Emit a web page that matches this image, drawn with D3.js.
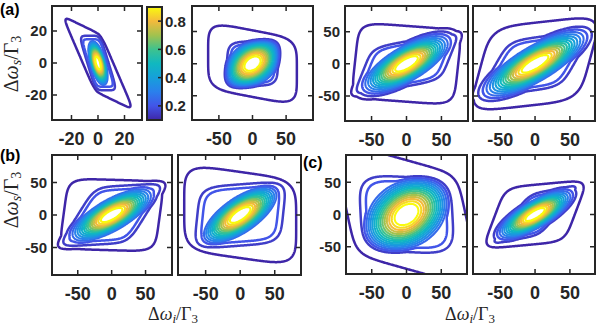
<!DOCTYPE html>
<html>
<head>
<meta charset="utf-8">
<script src="https://cdn.jsdelivr.net/npm/d3@7"></script>
<style>
body { margin: 0; background: #fff; }
svg { display: block; }
</style>
</head>
<body>
<div id="figure"></div>
<script>
// panels, in reading order
var panelNames = ["a1", "a2", "a3", "a4", "b1", "b2", "c1", "c2"];

// axis ranges (Delta omega / Gamma_3)
var xDomains = [[-34.7, 33.2], [-90, 90], [-88, 88], [-89, 86],
		[-88, 89], [-90, 88], [-87, 87], [-89, 86]];
var yDomains = [[-35.6, 35.6], [-88, 90], [-89, 90], [-89, 90],
		[-92, 92], [-92, 92], [-92, 92], [-92, 92]];
var xTickValues = [[-20, 0, 20], [-50, 0, 50], [-50, 0, 50], [-50, 0, 50],
		   [-50, 0, 50], [-50, 0, 50], [-50, 0, 50], [-50, 0, 50]];
var yTickValues = xTickValues;
var showYLabels = [true, false, true, false, true, false, true, false];

// contour levels and colour bar
var contourLevels = [0.1, 0.15, 0.2, 0.25, 0.3, 0.35, 0.4, 0.45, 0.5,
		     0.55, 0.6, 0.65, 0.7, 0.75, 0.8, 0.85, 0.9];
var colorbarTicks = [0.2, 0.4, 0.6, 0.8];
var colorbarRange = [0.1, 0.9];
var parulaStops = ["#3e26a8", "#4255e8", "#2a80ec", "#16a0da", "#10b8c0",
		   "#3ec28e", "#a2c24e", "#f4ba3c", "#f9fb0e"];

/*
  Shapes, one per panel.
  Each shape is [[cx, cy, w], [cx, cy, w], q]: two edge normals
  (cx*x + cy*y) / w and the roundness q of the corners.
  shelf: the faint outer plateau (level 0.1 line)
  ridge: the blue rim (0.15 and 0.2 lines)
  core:  the central peak
*/
var shelfShapes = [
    [[1, 0.52, 11.5], [0.4, 1, 18.6], 8],
    [[1, 0, 66], [0.2, 1, 52], 5],
    [[1, -0.1, 74], [0.08, 1, 59], 6],
    [[1, -0.25, 77], [-0.12, 1, 64], 5],
    [[1, -0.13, 71], [0.03, 1, 54], 6],
    [[1, 0, 81], [0.15, 1, 66], 5],
    [[1, 0.2, 85], [0.3, 1, 84], 8],
    [[1, -0.35, 57], [-0.1, 1, 46], 6]];
var ridgeShapes = [
    [[1, 0.37, 8], [0, 1, 17], 6],
    [[1, -0.05, 38], [-0.05, 1, 35], 5],
    [[1, -0.37, 58], [-0.2, 1, 35], 6],
    [[1, -0.53, 56], [-0.15, 1, 41], 6],
    [[1, -0.6, 50], [-0.06, 1, 44], 6],
    [[1, -0.1, 62], [-0.08, 1, 47], 5],
    [[1, 0.05, 66], [0.05, 1, 58], 4],
    [[1, -0.73, 31], [-0.21, 1, 33], 6]];
var coreShapes = [
    [[1, 0.3, 5], [0, 1, 12], 2],
    [[0.766, 0.643, 42], [-0.643, 0.766, 28], 2],
    [[0.839, 0.545, 58], [-0.545, 0.839, 22], 2],
    [[0.839, 0.545, 69], [-0.545, 0.839, 22.5], 2],
    [[0.857, 0.515, 56], [-0.515, 0.857, 20], 2],
    [[0.799, 0.602, 55], [-0.602, 0.799, 22], 2],
    [[0.743, 0.669, 60], [-0.669, 0.743, 42], 2],
    [[0.839, 0.545, 50], [-0.545, 0.839, 17], 2]];
var shelfHeight = [0.13, 0.13, 0.13, 0.13, 0.13, 0.13, 0.13, 0.13];
var ridgeHeight = [0.24, 0.24, 0.24, 0.24, 0.24, 0.24, 0.24, 0.24];
// how tightly the core is held inside the ridge (big = not at all)
var coreWindow = [1.1, 1.08, 3, 3, 3, 1.12, 1.08, 3];

// placement of the axes boxes, pixels
var panelLeft   = [52, 192, 345, 473, 52, 178, 346, 473];
var panelRight  = [142, 313, 468, 595, 172, 301, 467, 595];
var panelTop    = [6, 6, 6, 6, 155, 155, 155, 155];
var panelBottom = [120, 120, 121, 121, 275, 275, 274, 274];

var axisColor = "#262626";
var tickFont = "'Liberation Sans', Arial, sans-serif";
var mathFont = "'Liberation Serif', 'Times New Roman', serif";

var parula = d3.scaleLinear()
    .domain(parulaStops.map(function(d, i) {
	return colorbarRange[0] +
	    i / (parulaStops.length - 1) * (colorbarRange[1] - colorbarRange[0]); }))
    .range(parulaStops)
    .clamp(true);

/*
  shapeNorm: superellipse radius of (x, y) in the skewed frame of a shape.
*/
function shapeNorm(s, x, y) {
    var u = Math.abs((s[0][0] * x + s[0][1] * y) / s[0][2]);
    var v = Math.abs((s[1][0] * x + s[1][1] * y) / s[1][2]);
    return Math.pow(Math.pow(u, s[2]) + Math.pow(v, s[2]), 1 / s[2]);
}

// plateau of given height that crosses edgeLevel at r == 1
function plateau(height, edgeLevel, r, n) {
    return height / (1 + (height / edgeLevel - 1) * Math.pow(r, n));
}

function field(k, x, y) {
    var rShelf = shapeNorm(shelfShapes[k], x, y);
    var rRidge = shapeNorm(ridgeShapes[k], x, y);
    var rCore = shapeNorm(coreShapes[k], x, y);
    var shelf = plateau(shelfHeight[k], 0.1, rShelf, 8);
    var ridge = plateau(ridgeHeight[k], 0.15, rRidge, 8);
    var core = Math.exp(-rCore * rCore) /
	(1 + Math.pow(rRidge / coreWindow[k], 8));
    return Math.max(shelf, ridge, core);
}

var svg = d3.select("#figure")
    .append("svg")
    .attr("width", 599)
    .attr("height", 327)
    .style("background-color", "white");

var defs = svg.append("defs");

function drawPanel(k) {
    var x = d3.scaleLinear().domain(xDomains[k]).range([panelLeft[k], panelRight[k]]);
    var y = d3.scaleLinear().domain(yDomains[k]).range([panelBottom[k], panelTop[k]]);

    // sample the field a bit beyond the box so that closing edges get clipped
    var nx = 230, ny = 230;
    var xs = xDomains[k], ys = yDomains[k];
    var gx0 = xs[0] - 0.2 * (xs[1] - xs[0]), gx1 = xs[1] + 0.2 * (xs[1] - xs[0]);
    var gy0 = ys[0] - 0.2 * (ys[1] - ys[0]), gy1 = ys[1] + 0.2 * (ys[1] - ys[0]);
    var dgx = (gx1 - gx0) / (nx - 1), dgy = (gy1 - gy0) / (ny - 1);
    var values = new Float64Array(nx * ny);
    for (var j = 0; j < ny; j++) {
	for (var i = 0; i < nx; i++) {
	    values[j * nx + i] = field(k, gx0 + i * dgx, gy0 + j * dgy);
	}
    }
    var contours = d3.contours().size([nx, ny]).thresholds(contourLevels)(values);

    var projection = d3.geoTransform({
	point: function(px, py) {
	    this.stream.point(x(gx0 + (px - 0.5) * dgx), y(gy0 + (py - 0.5) * dgy));
	}
    });
    var path = d3.geoPath(projection);

    defs.append("clipPath")
	.attr("id", "clip" + k)
	.append("rect")
	.attr("x", panelLeft[k])
	.attr("y", panelTop[k])
	.attr("width", panelRight[k] - panelLeft[k])
	.attr("height", panelBottom[k] - panelTop[k]);

    var g = svg.append("g").attr("class", "panel " + panelNames[k]);

    g.append("g")
	.attr("clip-path", "url(#clip" + k + ")")
	.selectAll("path")
	.data(contours)
	.enter()
	.append("path")
	.attr("d", path)
	.attr("fill", "none")
	.attr("stroke", function(d) { return parula(d.value); })
	.attr("stroke-width", function(d) { return d.value < 0.22 ? 2.5 : 2.1; })
	.attr("stroke-linejoin", "round");

    // ticks on all four sides, pointing in
    var tl = 5;
    g.selectAll(".xtick")
	.data(xTickValues[k])
	.enter()
	.append("path")
	.attr("d", function(d) {
	    return "M" + x(d) + "," + panelBottom[k] + "v" + (-tl) +
		"M" + x(d) + "," + panelTop[k] + "v" + tl; })
	.attr("stroke", axisColor)
	.attr("stroke-width", 1.5);
    g.selectAll(".ytick")
	.data(yTickValues[k])
	.enter()
	.append("path")
	.attr("d", function(d) {
	    return "M" + panelLeft[k] + "," + y(d) + "h" + tl +
		"M" + panelRight[k] + "," + y(d) + "h" + (-tl); })
	.attr("stroke", axisColor)
	.attr("stroke-width", 1.5);

    g.append("rect")
	.attr("x", panelLeft[k])
	.attr("y", panelTop[k])
	.attr("width", panelRight[k] - panelLeft[k])
	.attr("height", panelBottom[k] - panelTop[k])
	.attr("fill", "none")
	.attr("stroke", axisColor)
	.attr("stroke-width", 2);

    g.selectAll(".xlabel")
	.data(xTickValues[k])
	.enter()
	.append("text")
	.attr("x", function(d) { return x(d); })
	.attr("y", panelBottom[k] + 25)
	.attr("text-anchor", "middle")
	.style("font-family", tickFont)
	.style("font-weight", "bold")
	.style("font-size", "18px")
	.attr("fill", axisColor)
	.text(function(d) { return d; });

    if (showYLabels[k]) {
	g.selectAll(".ylabel")
	    .data(yTickValues[k])
	    .enter()
	    .append("text")
	    .attr("x", panelLeft[k] - 5)
	    .attr("y", function(d) { return y(d); })
	    .attr("dy", "0.36em")
	    .attr("text-anchor", "end")
	    .style("font-family", tickFont)
	    .style("font-weight", "bold")
	    .style("font-size", "15px")
	    .attr("fill", axisColor)
	    .text(function(d) { return d; });
    }
}

panelNames.forEach(function(name, k) { drawPanel(k); });

/*
  colour bar next to panel (a) left
*/
function drawColorbar(left, right, top, bottom) {
    var c = d3.scaleLinear().domain(colorbarRange).range([bottom, top]);
    var grad = defs.append("linearGradient")
	.attr("id", "parulaGrad")
	.attr("x1", 0).attr("y1", 1)
	.attr("x2", 0).attr("y2", 0);
    grad.selectAll("stop")
	.data(parulaStops)
	.enter()
	.append("stop")
	.attr("offset", function(d, i) { return i / (parulaStops.length - 1); })
	.attr("stop-color", function(d) { return d; });

    svg.append("rect")
	.attr("x", left).attr("y", top)
	.attr("width", right - left).attr("height", bottom - top)
	.attr("fill", "url(#parulaGrad)")
	.attr("stroke", axisColor)
	.attr("stroke-width", 2);

    svg.selectAll(".cbtick")
	.data(colorbarTicks)
	.enter()
	.append("path")
	.attr("d", function(d) { return "M" + right + "," + c(d) + "h-4"; })
	.attr("stroke", axisColor)
	.attr("stroke-width", 1.5);

    svg.selectAll(".cblabel")
	.data(colorbarTicks)
	.enter()
	.append("text")
	.attr("x", right + 3)
	.attr("y", function(d) { return c(d); })
	.attr("dy", "0.36em")
	.style("font-family", tickFont)
	.style("font-weight", "bold")
	.style("font-size", "15px")
	.attr("fill", axisColor)
	.text(function(d) { return d.toFixed(1); });
}

drawColorbar(147, 162, 7, 120);

/*
  axis titles in math style: Delta omega_sub / Gamma_3
*/
function mathTitle(sel, sub, size) {
    sel.style("font-family", mathFont)
	.style("font-size", size + "px")
	.attr("fill", axisColor);
    sel.append("tspan").text("\u0394");
    sel.append("tspan").style("font-style", "italic").text("\u03c9");
    sel.append("tspan").style("font-style", "italic")
	.style("font-size", Math.round(size * 0.7) + "px")
	.attr("dy", 3).text(sub);
    sel.append("tspan").attr("dy", -3).text("/\u0393");
    sel.append("tspan").style("font-size", Math.round(size * 0.7) + "px")
	.attr("dy", 3).text("3");
}

[[18, 64], [18, 200]].forEach(function(p) {
    var t = svg.append("text")
	.attr("text-anchor", "middle")
	.attr("transform", "translate(" + p[0] + "," + p[1] + ") rotate(-90)");
    mathTitle(t, "s", 20);
});

[[173, 320], [470, 320]].forEach(function(p) {
    var t = svg.append("text")
	.attr("text-anchor", "middle")
	.attr("x", p[0]).attr("y", p[1]);
    mathTitle(t, "i", 18);
});

// panel letters
[["(a)", 0, 15], ["(b)", 0, 161], ["(c)", 303, 168]].forEach(function(p) {
    svg.append("text")
	.attr("x", p[1]).attr("y", p[2])
	.style("font-family", tickFont)
	.style("font-weight", "bold")
	.style("font-size", "16px")
	.attr("fill", "black")
	.text(p[0]);
});
</script>
</body>
</html>
